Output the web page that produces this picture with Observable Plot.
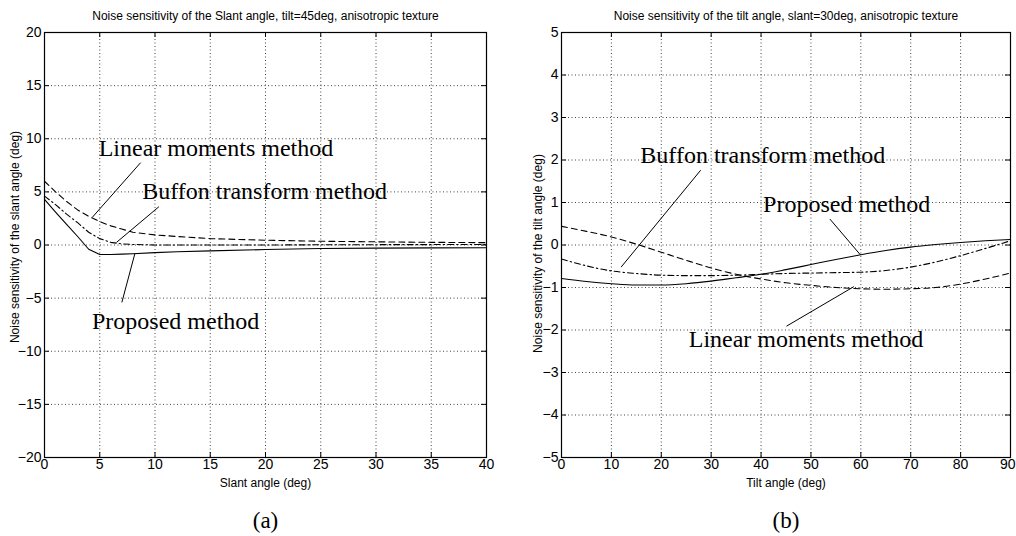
<!DOCTYPE html>
<html><head><meta charset="utf-8">
<script src="https://cdn.jsdelivr.net/npm/d3@7"></script>
<script src="https://cdn.jsdelivr.net/npm/@observablehq/plot@0.6"></script>
<style>
body{margin:0;background:#fff;}
#wrap{display:flex;width:1016px;height:536px;overflow:hidden;}
</style></head><body><div id="wrap"></div>
<script>
// ---- Panel (a): slant angle ----
const slantAngles   = [0, 1, 2, 3, 4, 5, 6, 7, 8, 10, 12, 15, 20, 25, 30, 35, 40];
const slantProposed = [4.3, 3.1, 1.95, 0.8, -0.4, -0.9, -0.9, -0.86, -0.82, -0.72, -0.64, -0.55, -0.43, -0.33, -0.29, -0.27, -0.26];
const slantBuffon   = [4.6, 3.8, 2.9, 2.1, 1.2, 0.6, 0.25, 0.1, 0.05, 0.0, 0.0, 0.0, 0.0, 0.02, 0.03, 0.04, 0.05];
const slantLinear   = [6.0, 5.0, 4.1, 3.3, 2.7, 2.2, 1.8, 1.5, 1.2, 0.95, 0.8, 0.6, 0.45, 0.35, 0.3, 0.25, 0.22];
const slantXTicks = [0, 5, 10, 15, 20, 25, 30, 35, 40];
const slantYTicks = [-20, -15, -10, -5, 0, 5, 10, 15, 20];

// ---- Panel (b): tilt angle ----
const tiltAngles   = [0, 5, 10, 15, 20, 25, 30, 35, 40, 45, 50, 55, 60, 65, 70, 75, 80, 85, 90];
const tiltProposed = [-0.79, -0.86, -0.91, -0.94, -0.94, -0.91, -0.85, -0.77, -0.69, -0.58, -0.46, -0.34, -0.23, -0.13, -0.05, 0.01, 0.06, 0.10, 0.13];
const tiltBuffon   = [-0.33, -0.49, -0.61, -0.67, -0.71, -0.72, -0.72, -0.71, -0.69, -0.67, -0.66, -0.65, -0.64, -0.60, -0.52, -0.40, -0.25, -0.08, 0.10];
const tiltLinear   = [0.44, 0.32, 0.19, 0.02, -0.17, -0.36, -0.54, -0.69, -0.80, -0.89, -0.95, -1.0, -1.03, -1.04, -1.03, -1.0, -0.92, -0.80, -0.66];
const tiltXTicks = [0, 10, 20, 30, 40, 50, 60, 70, 80, 90];
const tiltYTicks = [-5, -4, -3, -2, -1, 0, 1, 2, 3, 4, 5];

// ---- annotations (label anchor + leader line, in data units) ----
const slantAnnText = ["Linear moments method", "Buffon transform method", "Proposed method"];
const slantAnnX = [4.9, 8.84, 4.3];
const slantAnnY = [8.4, 4.34, -7.9];
const slantLeadX1 = [8.7, 10.35, 8.17];
const slantLeadY1 = [7.75, 3.6, -0.84];
const slantLeadX2 = [4.32, 6.52, 7.0];
const slantLeadY2 = [2.6, 0.25, -5.4];

const tiltAnnText = ["Buffon transform method", "Proposed method", "Linear moments method"];
const tiltAnnX = [15.8, 40.4, 25.5];
const tiltAnnY = [1.92, 0.77, -2.4];
const tiltLeadX1 = [27.9, 53.8, 58.6];
const tiltLeadY1 = [1.76, 0.61, -0.98];
const tiltLeadX2 = [11.95, 59.9, 45.1];
const tiltLeadY2 = [-0.52, -0.23, -1.91];

const seriesNames = ["Proposed method", "Buffon transform method", "Linear moments method"];
const dashes = [null, "6,3,1.5,3", "6,4"];

const SANS = "'Liberation Sans', Arial, Helvetica, sans-serif";
const SERIF = "'Liberation Serif', 'Times New Roman', serif";

function panel(o) {
  const W = 508, H = 536, mT = 32, mB = 79;
  const fw = W - o.mL - o.mR, fh = H - mT - mB;
  const ann = o.annText.map((t, i) => ({text: t, x: o.annX[i], y: o.annY[i],
    x1: o.lx1[i], y1: o.ly1[i], x2: o.lx2[i], y2: o.ly2[i]}));
  const lineMarks = o.series.map((ys, k) => Plot.line(o.xs.map((x, i) => ({x, y: ys[i]})), {
    x: "x", y: "y", stroke: "black", strokeWidth: 1.1, curve: o.curve,
    strokeDasharray: dashes[k] ?? undefined
  }));
  const gridStyle = {stroke: "#444", strokeOpacity: 1, strokeWidth: 1, strokeDasharray: "1,2.5"};
  const xMain = o.xTicks.slice(0, -1), xLast = o.xTicks.slice(-1);
  return Plot.plot({
    width: W, height: H, marginLeft: o.mL, marginRight: o.mR, marginTop: mT, marginBottom: mB,
    x: {domain: o.xDomain},
    y: {domain: o.yDomain},
    style: {fontFamily: SANS, fontSize: "12px", background: "white", color: "black", overflow: "visible"},
    marks: [
      Plot.gridX(o.xTicks, gridStyle),
      Plot.gridY(o.yTicks, gridStyle),
      Plot.tickX(o.xTicks, {x: d => d, insetTop: fh - 5, stroke: "black"}),
      Plot.tickX(o.xTicks, {x: d => d, insetBottom: fh - 5, stroke: "black"}),
      Plot.tickY(o.yTicks, {y: d => d, insetRight: fw - 5, stroke: "black"}),
      Plot.tickY(o.yTicks, {y: d => d, insetLeft: fw - 5, stroke: "black"}),
      Plot.frame({stroke: "black", strokeWidth: 1.2}),
      Plot.axisX(xMain, {tickSize: 0, tickPadding: 2, fontSize: 14, label: null}),
      Plot.axisX(xLast, {tickSize: 0, tickPadding: 2, fontSize: 14, label: null,
        textAnchor: o.lastEnd ? "end" : "middle", dx: o.lastEnd ? 5 : 0}),
      Plot.axisY(o.yTicks, {tickSize: 0, tickPadding: 3, fontSize: 14, label: null}),
      ...lineMarks,
      Plot.link(ann, {x1: "x1", y1: "y1", x2: "x2", y2: "y2", stroke: "black", strokeWidth: 1}),
      Plot.text(ann, {x: "x", y: "y", text: "text", textAnchor: "start", lineAnchor: "bottom",
        fontFamily: SERIF, fontSize: 24, fill: "black"}),
      Plot.text([o.title], {frameAnchor: "top", dy: -13, lineAnchor: "bottom", fontSize: 12, fill: "black"}),
      Plot.text([o.xLabel], {frameAnchor: "bottom", dy: 29, lineAnchor: "bottom", fontSize: 12, fill: "black"}),
      Plot.text([o.yLabel], {frameAnchor: "left", dx: o.yDx, dy: o.yDy, rotate: -90, textAnchor: "middle",
        fontSize: 12, fill: "black"}),
      Plot.text([o.caption], {frameAnchor: "bottom", dy: 70, lineAnchor: "bottom", fontFamily: SERIF, fontSize: 23, fill: "black"})
    ]
  });
}

const wrap = document.getElementById("wrap");
wrap.append(panel({
  mL: 44, mR: 22, xs: slantAngles, series: [slantProposed, slantBuffon, slantLinear], curve: "linear",
  xDomain: [0, 40], yDomain: [-20, 20], xTicks: slantXTicks, yTicks: slantYTicks, lastEnd: false,
  annText: slantAnnText, annX: slantAnnX, annY: slantAnnY,
  lx1: slantLeadX1, ly1: slantLeadY1, lx2: slantLeadX2, ly2: slantLeadY2,
  title: "Noise sensitivity of the Slant angle, tilt=45deg, anisotropic texture",
  xLabel: "Slant angle (deg)", yLabel: "Noise sensitivity of the slant angle (deg)",
  yDx: -29, yDy: -8, caption: "(a)"
}));
wrap.append(panel({
  mL: 53, mR: 6, xs: tiltAngles, series: [tiltProposed, tiltBuffon, tiltLinear], curve: "monotone-x",
  xDomain: [0, 90], yDomain: [-5, 5], xTicks: tiltXTicks, yTicks: tiltYTicks, lastEnd: true,
  annText: tiltAnnText, annX: tiltAnnX, annY: tiltAnnY,
  lx1: tiltLeadX1, ly1: tiltLeadY1, lx2: tiltLeadX2, ly2: tiltLeadY2,
  title: "Noise sensitivity of the tilt angle, slant=30deg, anisotropic texture",
  xLabel: "Tilt angle (deg)", yLabel: "Noise sensitivity of the tilt angle (deg)",
  yDx: -23.5, yDy: 8.5, caption: "(b)"
}));
</script></body></html>
